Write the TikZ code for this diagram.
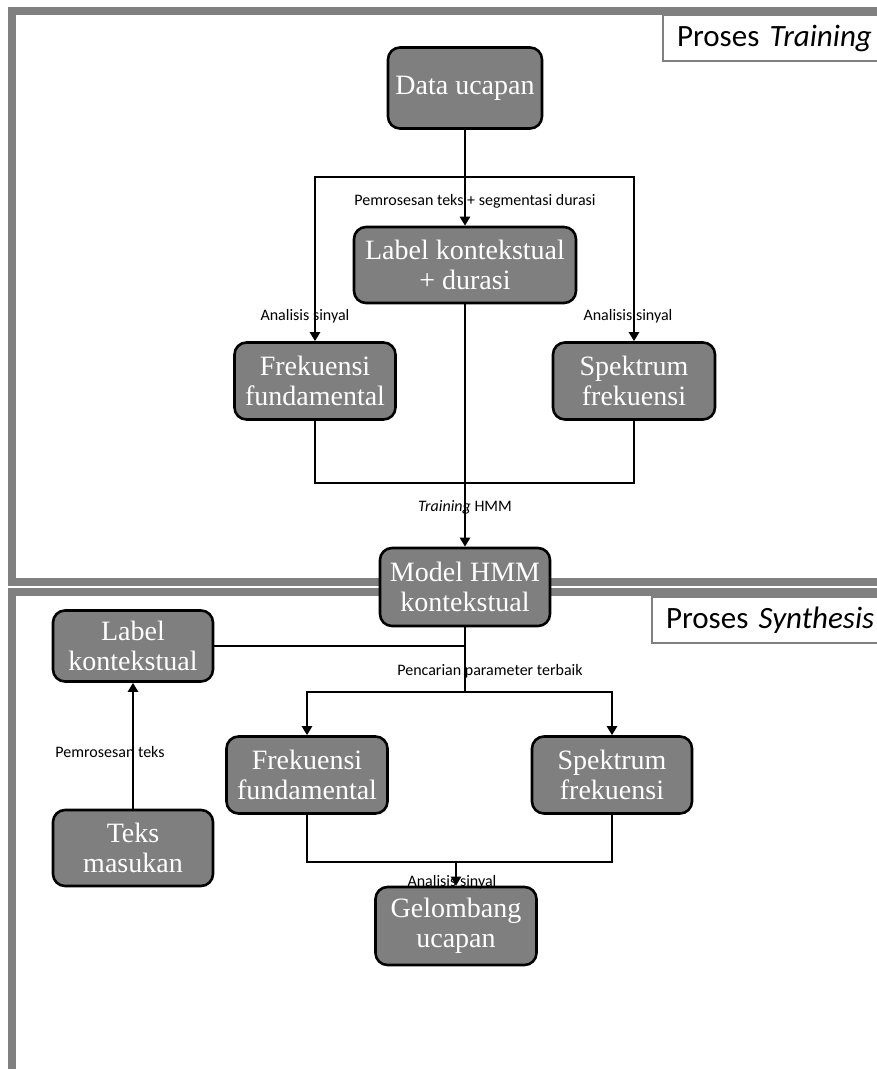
\documentclass[tikz,border=0pt]{standalone}
\usepackage{fontspec}
\setmainfont{Liberation Serif}
\newfontfamily\lblfont{Carlito}
\usetikzlibrary{arrows.meta}
\definecolor{procgray}{HTML}{7F7F7F}
\definecolor{framegray}{HTML}{808080}
\begin{document}
\begin{tikzpicture}[x=1pt,y=-1pt,
  proc/.style={draw=black, line width=2.6pt, fill=procgray, rounded corners=12pt,
    text=white, font=\fontsize{28}{30}\selectfont, align=center, inner sep=0pt,
    minimum width=160pt, minimum height=77pt},
  link/.style={line width=2.4pt},
  flow/.style={link, -{Triangle[length=9pt,width=10pt]}},
  note/.style={font=\lblfont\fontsize{16}{18}\selectfont, inner sep=0pt},
  frame/.style={draw=framegray, line width=8pt},
  tag/.style={draw=framegray, line width=2pt, fill=white, anchor=north west,
    font=\lblfont\fontsize{31}{34}\selectfont, inner xsep=14pt, inner ysep=0pt,
    minimum height=46pt, text width=260pt}]
\useasboundingbox (0,0) rectangle (877,1069);
\clip (0,0) rectangle (877,1069);

% section frames
\draw[frame] (12,11) rectangle (900,582);
\draw[frame] (12,592) rectangle (900,1090);
\node[tag] (ttrain) at (662,14) {Proses \textit{Training}};
\node[tag] (tsynth) at (651,596) {Proses \textit{Synthesis}};

% training stage
\node[proc, minimum width=154pt, minimum height=81pt] (data) at (465,88) {Data ucapan};
\node[proc, minimum width=222pt, minimum height=76pt] (lkd) at (465,265) {Label kontekstual\\+ durasi};
\node[proc, minimum width=161pt] (ff1) at (315,381) {Frekuensi\\fundamental};
\node[proc, minimum width=162pt] (sf1) at (634,381) {Spektrum\\frekuensi};
\node[proc, minimum width=170pt, minimum height=78pt] (hmm) at (465,587) {Model HMM\\kontekstual};

\coordinate (hubT) at (465,177);
\coordinate (joinT) at (465,483);
\draw[flow] (data) -- (lkd);
\draw[flow] (hubT) -| (ff1);
\draw[flow] (hubT) -| (sf1);
\draw[link] (ff1) |- (joinT) -| (sf1);
\draw[flow] (lkd) -- (hmm);

\node[note] (n1) at (475,201) {Pemrosesan teks + segmentasi durasi};
\node[note] (n2) at (305,316) {Analisis sinyal};
\node[note] (n3) at (628,316) {Analisis sinyal};
\node[note] (n4) at (465,507) {\textit{Training} HMM};

% synthesis stage
\node[proc, minimum width=160pt, minimum height=71pt] (lk) at (133,646) {Label\\kontekstual};
\node[proc, minimum width=160pt, minimum height=76pt] (teks) at (133,848) {Teks\\masukan};
\node[proc, minimum width=161pt] (ff2) at (307,775) {Frekuensi\\fundamental};
\node[proc, minimum width=160pt] (sf2) at (612,775) {Spektrum\\frekuensi};
\node[proc, minimum width=161pt, minimum height=78pt] (gel) at (456,926) {Gelombang\\ucapan};

\coordinate (hubB) at (465,692);
\coordinate (joinB) at (456,862);
\draw[link] (hmm) -- (hubB);
\draw[link] (lk.east) -- (lk.east -| hmm);
\draw[flow] (hubB) -| (ff2);
\draw[flow] (hubB) -| (sf2);
\draw[flow] (teks) -- (lk);
\draw[link] (ff2) |- (joinB) -| (sf2);
\draw[flow] (joinB) -- (gel);

\node[note] (n5) at (490,671) {Pencarian parameter terbaik};
\node[note] (n6) at (110,752) {Pemrosesan teks};
\node[note] (n7) at (452,882) {Analisis sinyal};
\end{tikzpicture}
\end{document}
